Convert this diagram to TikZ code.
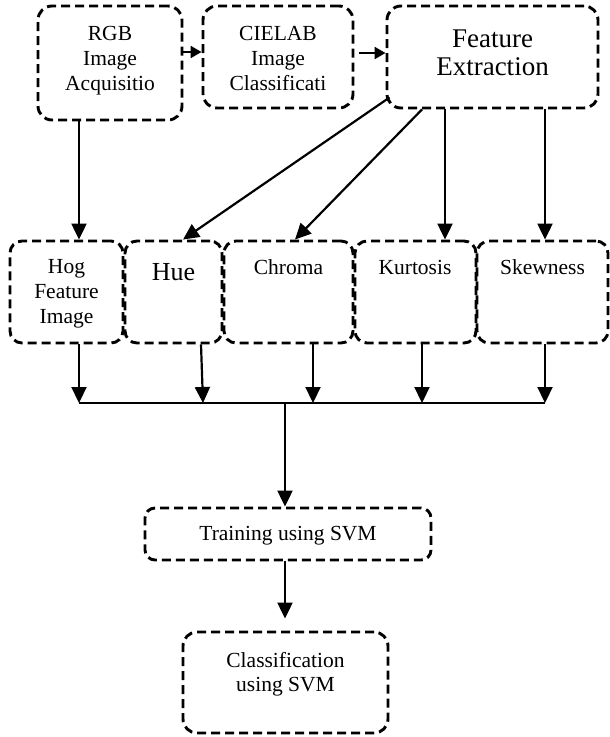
\documentclass[tikz,border=0pt]{standalone}
\usepackage{fontspec}
\setmainfont{Liberation Serif}
\usetikzlibrary{arrows.meta,calc}
\begin{document}
\begin{tikzpicture}[x=1pt,y=-1pt,
  box/.style={draw, dash pattern=on 9pt off 5pt, line width=2.9pt, rounded corners=14pt, inner sep=0pt},
  rbox/.style={box, minimum height=102pt, rounded corners=12pt},
  txt/.style={font=\fontsize{21.5}{25}\selectfont, align=center, inner sep=0pt, anchor=base},
  arr/.style={line width=2.2pt, -{Triangle[length=16pt,width=15pt]}},
  sarr/.style={line width=2.2pt, -{Triangle[length=11pt,width=12pt]}},
  busline/.style={line width=1.4pt}
]
\useasboundingbox (0,0) rectangle (610,737);

% boxes
\node[box, minimum width=144pt, minimum height=114pt] (rgb) at (110,63) {};
\node[box, minimum width=150pt, minimum height=102pt] (cielab) at (278,57) {};
\node[box, minimum width=211pt, minimum height=102pt] (fe) at (492.5,57) {};
\node[rbox, minimum width=113pt] (hog) at (66.5,292) {};
\node[rbox, minimum width=97pt] (hue) at (173.5,292) {};
\node[rbox, minimum width=129pt] (chroma) at (288.5,292) {};
\node[rbox, minimum width=121pt] (kurt) at (415.5,292) {};
\node[rbox, minimum width=131pt] (skew) at (542.5,292) {};
\node[box, minimum width=286pt, minimum height=52pt, rounded corners=10pt] (train) at (288,534) {};
\node[box, minimum width=205pt, minimum height=101pt] (cls) at (285.5,682.5) {};

% texts (base anchor = baseline of the last line)
\node[txt] (trgb) at (110,90) {RGB\\Image\\Acquisitio};
\node[txt] (tcie) at (278,90) {CIELAB\\Image\\Classificati};
\node[txt, font=\fontsize{27}{28}\selectfont] (tfe) at (492.5,75) {Feature\\Extraction};
\node[txt] (thog) at (66.5,323) {Hog\\Feature\\Image};
\node[txt, font=\fontsize{26}{28}\selectfont] (thue) at (173.5,280) {Hue};
\node[txt] (tchr) at (288.5,274) {Chroma};
\node[txt] (tkur) at (415,274) {Kurtosis};
\node[txt] (tske) at (542.5,274) {Skewness};
\node[txt] (ttrn) at (288,540) {Training using SVM};
\node[txt, font=\fontsize{21.5}{24}\selectfont] (tcls) at (285.5,691) {Classification\\using SVM};

% reference coordinates
\coordinate (xa) at (79,0);
\coordinate (ya) at (0,52);
\coordinate (yb) at (0,53);
\coordinate (xhue) at (183,0);
\coordinate (xfa) at (422,0);
\coordinate (xchr) at (295,0);
\coordinate (xk) at (445,0);
\coordinate (xs) at (545,0);
\coordinate (xh2) at (201,0);
\coordinate (b1) at (79,403);
\coordinate (b2) at (203,403);
\coordinate (b3) at (313,403);
\coordinate (b4) at (422,403);
\coordinate (b5) at (545,403);
\coordinate (bm) at (285,403);

% connectors
\draw[arr] (rgb.south -| xa) -- (hog.north -| xa);
\draw[sarr] (rgb.east |- ya) -- (cielab.west |- ya);
\draw[sarr, shorten <=5pt] (cielab.east |- yb) -- (fe.west |- yb);
\draw[arr] ($(fe.south west)+(4,-12)$) -- (hue.north -| xhue);
\draw[arr] (fe.south -| xfa) -- (chroma.north -| xchr);
\draw[arr] (fe.south -| xk) -- (kurt.north -| xk);
\draw[arr] (fe.south -| xs) -- (skew.north -| xs);

\draw[arr] (hog.south -| b1) -- (b1);
\draw[arr] (hue.south -| xh2) -- (b2);
\draw[arr] (chroma.south -| b3) -- (b3);
\draw[arr] (kurt.south -| b4) -- (b4);
\draw[arr] (skew.south -| b5) -- (b5);
\draw[busline] (b1) -- (b5);
\draw[arr] (bm) -- (train.north -| bm);
\draw[arr, shorten >=12pt] (train.south -| bm) -- (cls.north -| bm);
\end{tikzpicture}
\end{document}
